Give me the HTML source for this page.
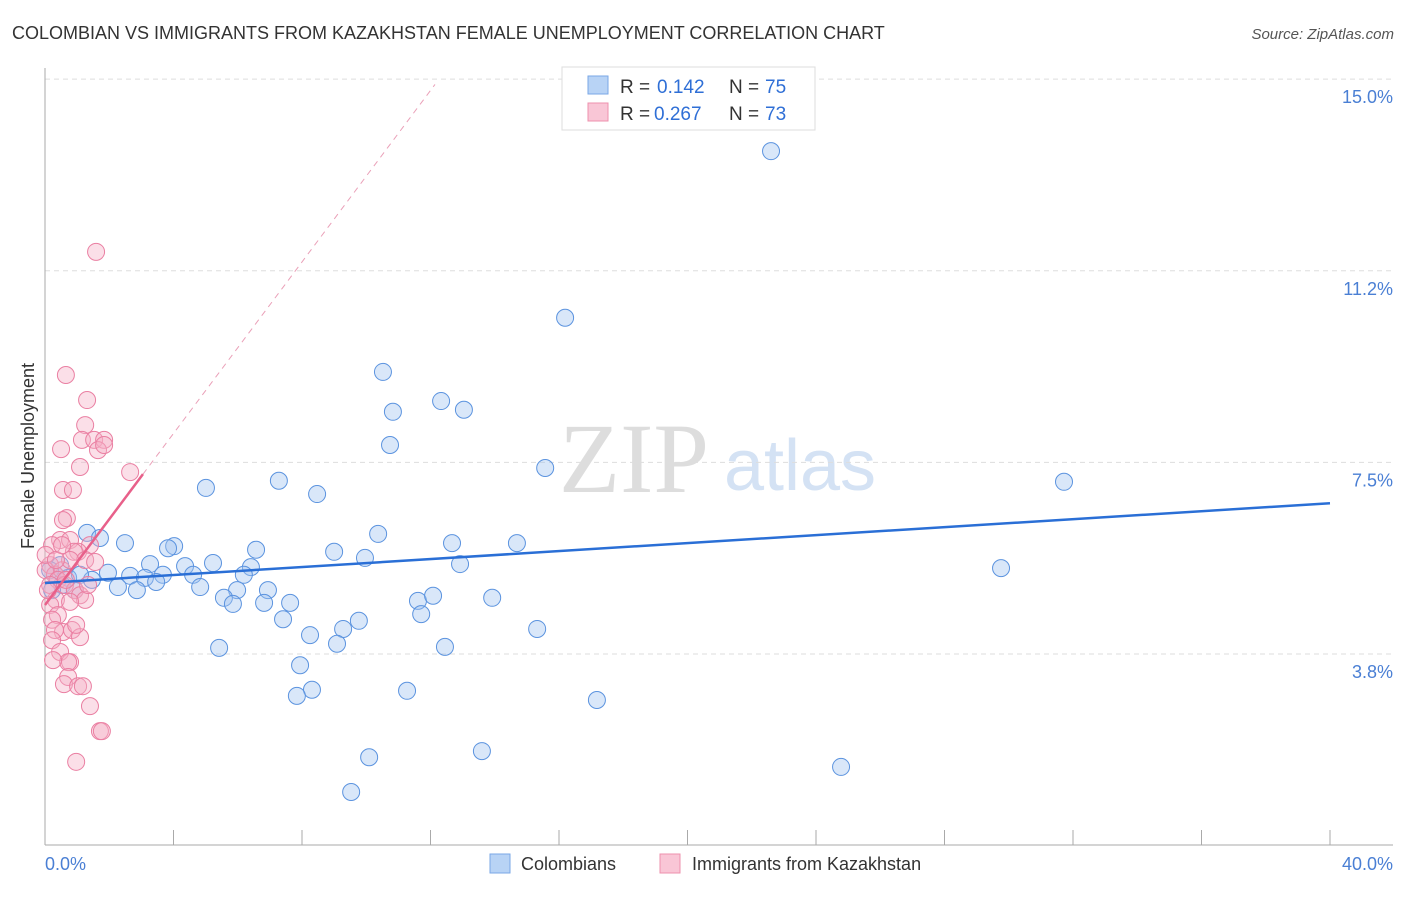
<!DOCTYPE html>
<html><head><meta charset="utf-8"><style>
body{margin:0;background:#fff;font-family:"Liberation Sans",sans-serif;}
</style></head><body>
<svg id="chart" width="1406" height="892" xmlns="http://www.w3.org/2000/svg">
<text x="12" y="39" font-size="18" fill="#333">COLOMBIAN VS IMMIGRANTS FROM KAZAKHSTAN FEMALE UNEMPLOYMENT CORRELATION CHART</text>
<text x="1394" y="39" font-size="15" fill="#555" font-style="italic" text-anchor="end">Source: ZipAtlas.com</text>
<text x="634" y="492" font-size="100" fill="#ddd" font-family="Liberation Serif,serif" text-anchor="middle">ZIP</text>
<text x="800" y="490" font-size="72" fill="#d4e2f4" text-anchor="middle">atlas</text>
<g id="grid"></g><g id="axes"></g><g id="pts"></g><g id="lines"></g>
<text transform="translate(34,456) rotate(-90)" font-size="18" fill="#333" text-anchor="middle">Female Unemployment</text>
<text x="45" y="870" font-size="18" fill="#4a7fd4">0.0%</text>
<text x="1393" y="870" font-size="18" fill="#4a7fd4" text-anchor="end">40.0%</text>
<g>
<rect x="562" y="67" width="253" height="63" fill="#fff" stroke="#ddd"/>
<rect x="588" y="76" width="20" height="18" fill="#b8d3f5" stroke="#7aa7e6"/>
<rect x="588" y="103" width="20" height="18" fill="#f9c6d6" stroke="#ee90ad"/>
<text x="620" y="93" font-size="19" fill="#333">R =</text>
<text x="657" y="93" font-size="19" fill="#2f6fd6">0.142</text>
<text x="729" y="93" font-size="19" fill="#333">N =</text>
<text x="765" y="93" font-size="19" fill="#2f6fd6">75</text>
<text x="620" y="120" font-size="19" fill="#333">R =</text>
<text x="654" y="120" font-size="19" fill="#2f6fd6">0.267</text>
<text x="729" y="120" font-size="19" fill="#333">N =</text>
<text x="765" y="120" font-size="19" fill="#2f6fd6">73</text>
</g>
<g>
<rect x="490" y="854" width="20" height="19" fill="#b8d3f5" stroke="#7aa7e6"/>
<text x="521" y="870" font-size="18" fill="#333">Colombians</text>
<rect x="660" y="854" width="20" height="19" fill="#f9c6d6" stroke="#ee90ad"/>
<text x="692" y="870" font-size="18" fill="#333">Immigrants from Kazakhstan</text>
</g>
</svg>
<script>
const blueX=[22.60,16.19,10.52,10.83,12.33,13.04,10.74,15.57,31.72,5.01,7.28,8.47,1.31,1.71,2.49,10.37,12.67,14.69,4.02,3.83,6.57,9.00,9.96,12.92,3.27,4.36,5.23,6.41,29.76,1.96,2.65,3.11,3.67,4.61,6.19,1.46,2.27,2.86,3.46,4.83,5.98,6.94,5.57,5.85,6.82,7.63,11.61,12.08,13.92,11.71,7.41,9.77,9.28,8.25,9.09,15.32,5.42,12.45,7.94,8.31,7.84,11.27,17.18,13.60,10.09,24.78,9.53,0.47,0.31,0.72,0.16,0.53,0.93,0.22,1.09];
const blueY=[13.59,10.33,9.27,8.49,8.70,8.53,7.84,7.39,7.12,7.00,7.14,6.88,6.12,6.02,5.92,6.10,5.92,5.92,5.86,5.82,5.79,5.75,5.63,5.51,5.51,5.47,5.53,5.45,5.43,5.34,5.28,5.24,5.30,5.30,5.30,5.20,5.06,5.00,5.16,5.06,5.00,5.00,4.85,4.73,4.75,4.75,4.79,4.89,4.85,4.53,4.43,4.40,4.24,4.12,3.95,4.24,3.87,3.89,3.53,3.05,2.93,3.03,2.85,1.85,1.73,1.54,1.05,5.49,5.30,5.24,5.39,5.10,5.00,5.00,5.30];
const pinkX=[1.59,0.65,1.31,1.25,0.50,1.15,1.53,1.84,1.65,1.84,1.09,2.65,0.56,0.87,0.68,0.56,0.47,0.78,1.40,1.03,0.90,0.22,1.25,1.56,0.16,0.31,0.53,0.78,0.02,0.40,0.16,0.62,0.93,1.09,1.25,0.34,0.78,0.16,0.40,0.22,0.56,0.31,0.84,1.09,0.22,0.47,0.78,0.72,0.25,0.72,0.59,1.03,1.18,1.40,1.71,1.77,0.97,0.02,0.09,0.65,1.34,0.34,0.53,0.97];
const pinkY=[11.62,9.21,8.72,8.23,7.76,7.94,7.94,7.94,7.74,7.84,7.41,7.31,6.96,6.96,6.41,6.37,5.98,5.98,5.88,5.75,5.75,5.88,5.59,5.55,5.49,5.30,5.39,5.59,5.39,5.20,5.10,5.10,5.00,4.90,4.81,4.81,4.77,4.71,4.51,4.42,4.18,4.22,4.22,4.08,4.02,3.79,3.59,3.59,3.63,3.30,3.16,3.12,3.12,2.73,2.24,2.24,1.64,5.69,5.00,5.20,5.10,5.59,5.88,4.32];
const yTicks=[3.75,7.5,11.25,15.0];
const yTickLabels=["3.8%","7.5%","11.2%","15.0%"];
const xTicks=[0,4,8,12,16,20,24,28,32,36,40];
const blueFit=[5.14,6.70];
const pinkFit=[4.71,0.839];
const NS="http://www.w3.org/2000/svg";
const X=v=>45+v*1285/40;
const Y=v=>654-(v-3.75)*51.1;
function mk(par,tag,at){const e=document.createElementNS(NS,tag);for(const k in at)e.setAttribute(k,at[k]);document.getElementById(par).appendChild(e);return e;}
yTicks.forEach((t,i)=>{
 const l=mk('grid','line',{x1:45,x2:1393,y1:Y(t),y2:Y(t),stroke:'#ddd','stroke-dasharray':'5,4'});
 
 
 const tx=mk('grid','text',{x:1393,y:Y(t)+24,'font-size':18,fill:'#4a7fd4','text-anchor':'end'});
 tx.textContent=yTickLabels[i];
 
 
});
const ya=mk('axes','line',{x1:45,x2:45,y1:68,y2:845,stroke:'#aaa'});


const xa=mk('axes','line',{x1:45,x2:1393,y1:845,y2:845,stroke:'#aaa'});


xTicks.forEach(t=>{
 const l=mk('axes','line',{x1:X(t),x2:X(t),y1:830,y2:845,stroke:'#aaa'});
 
 
});
blueX.forEach((x,i)=>{
 const c=mk('pts','circle',{cx:X(x),cy:Y(blueY[i]),r:8.5,fill:'rgba(160,196,240,0.4)',stroke:'#5b93df','stroke-width':1});
 
 
});
pinkX.forEach((x,i)=>{
 const c=mk('pts','circle',{cx:X(x),cy:Y(pinkY[i]),r:8.5,fill:'rgba(246,176,198,0.4)',stroke:'#ea7fa2','stroke-width':1});
 
 
});
const bl=mk('lines','line',{x1:X(0),y1:Y(blueFit[0]),x2:X(40),y2:Y(blueFit[1]),stroke:'#2a6fd6','stroke-width':2.5});


const pe=3.05,pd=12.14;
const pl=mk('lines','line',{x1:X(0),y1:Y(pinkFit[0]),x2:X(pe),y2:Y(pinkFit[0]+pinkFit[1]*pe),stroke:'#e8608a','stroke-width':2.5});


const pdl=mk('lines','line',{x1:X(pe),y1:Y(pinkFit[0]+pinkFit[1]*pe),x2:X(pd),y2:Y(pinkFit[0]+pinkFit[1]*pd),stroke:'#eaa0b8','stroke-width':1,'stroke-dasharray':'6,5'});


</script>
</body></html>
